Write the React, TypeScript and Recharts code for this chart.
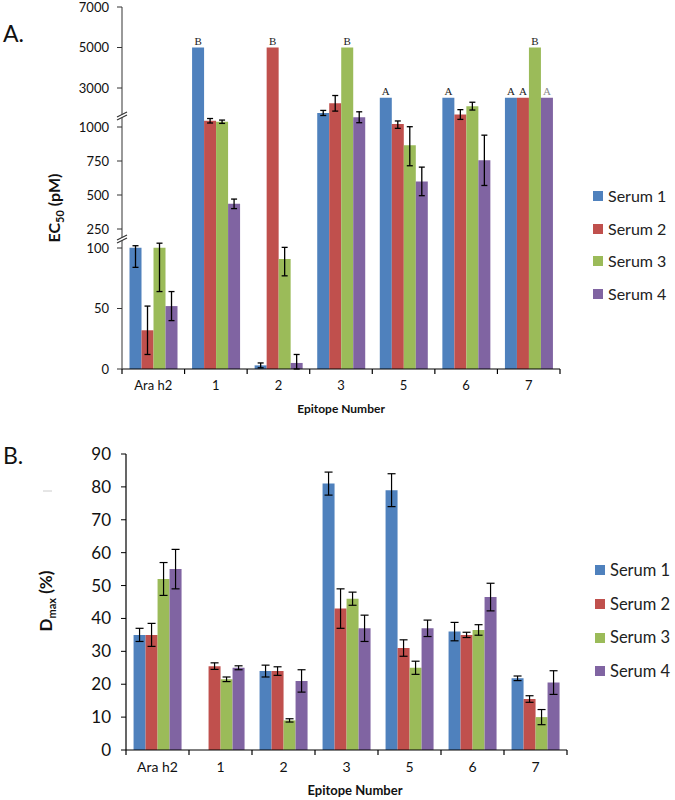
import React from "react";
import { BarChart, Bar, XAxis, YAxis, ErrorBar, LabelList } from "recharts";

const CATEGORIES = ["Ara h2", "1", "2", "3", "5", "6", "7"];
const SERIES = ["Serum 1", "Serum 2", "Serum 3", "Serum 4"];
const COLORS = ["#4F81BD", "#C0504D", "#9BBB59", "#8064A2"];

// EC50 (pM)
const ec50Serum1 = [101, 5000, 3, 1720, 2500, 2500, 2500];
const ec50Serum1Err = [17, 0, 2, 130, 0, 0, 0];
const ec50Serum2 = [32, 1320, 5000, 2215, 1150, 1640, 2500];
const ec50Serum2Err = [20, 115, 0, 400, 160, 250, 0];
const ec50Serum3 = [101, 1270, 91, 5000, 865, 2070, 5000];
const ec50Serum3Err = [37, 85, 14, 0, 150, 200, 0];
const ec50Serum4 = [52, 435, 5, 1500, 600, 755, 2500];
const ec50Serum4Err = [12, 35, 7, 280, 105, 185, 0];

const ec50Serum1Labels = ["", "B", "", "", "A", "A", "A"];
const ec50Serum2Labels = ["", "", "B", "", "", "", "A"];
const ec50Serum3Labels = ["", "", "", "B", "", "", "B"];
const ec50Serum4Labels = ["", "", "", "", "", "", "A"];

const EC50_TICKS = [0, 50, 100, 250, 500, 750, 1000, 3000, 5000, 7000];

// Dmax (%)
const dmaxSerum1 = [35, null, 24, 81, 79, 36, 21.8];
const dmaxSerum1Err = [2, null, 1.8, 3.5, 5, 2.8, 0.7];
const dmaxSerum2 = [35, 25.5, 24, 43, 31, 35, 15.5];
const dmaxSerum2Err = [3.5, 1, 1.3, 6, 2.5, 0.8, 1];
const dmaxSerum3 = [52, 21.5, 9, 46, 25, 36.5, 10];
const dmaxSerum3Err = [5, 0.7, 0.5, 2, 2, 1.6, 2.3];
const dmaxSerum4 = [55, 25, 21, 37, 37, 46.5, 20.5];
const dmaxSerum4Err = [6, 0.6, 3.4, 4, 2.5, 4.2, 3.6];

const DMAX_TICKS = [0, 10, 20, 30, 40, 50, 60, 70, 80, 90];

// broken axis: value breakpoints and their share of the axis (px from the bottom)
const AXIS_BREAKS = [0, 100, 250, 1000, 3000, 7000];
const AXIS_BREAK_PX = [0, 121, 140, 242, 281, 362];

function warp(v: number) {
  if (v <= 0) return 0;
  for (let i = 1; i < AXIS_BREAKS.length; i++) {
    if (v <= AXIS_BREAKS[i]) {
      const a = AXIS_BREAKS[i - 1], b = AXIS_BREAKS[i];
      const pa = AXIS_BREAK_PX[i - 1], pb = AXIS_BREAK_PX[i];
      return pa + ((v - a) / (b - a)) * (pb - pa);
    }
  }
  return AXIS_BREAK_PX[AXIS_BREAK_PX.length - 1];
}

const ec50Values = [ec50Serum1, ec50Serum2, ec50Serum3, ec50Serum4];
const ec50Errs = [ec50Serum1Err, ec50Serum2Err, ec50Serum3Err, ec50Serum4Err];
const ec50Labels = [ec50Serum1Labels, ec50Serum2Labels, ec50Serum3Labels, ec50Serum4Labels];

const ec50Data = CATEGORIES.map((name, i) => {
  const row: any = { name };
  ec50Values.forEach((vals, s) => {
    const v = vals[i];
    const e = ec50Errs[s][i];
    const w = warp(v);
    row[`s${s}`] = w;
    row[`s${s}e`] = e ? [w - warp(Math.max(0, v - e)), warp(v + e) - w] : null;
    row[`s${s}l`] = ec50Labels[s][i];
  });
  return row;
});

const dmaxValues = [dmaxSerum1, dmaxSerum2, dmaxSerum3, dmaxSerum4];
const dmaxErrs = [dmaxSerum1Err, dmaxSerum2Err, dmaxSerum3Err, dmaxSerum4Err];

const dmaxData = CATEGORIES.map((name, i) => {
  const row: any = { name };
  dmaxValues.forEach((vals, s) => {
    row[`s${s}`] = vals[i];
    row[`s${s}e`] = dmaxErrs[s][i];
  });
  return row;
});

const FONT = "Lato, 'Open Sans', sans-serif";

// category label at the centre, tick marks on the category boundaries (Excel style)
function EpitopeTick({ x, payload, index, axisY, band, count, fontSize }: any) {
  return (
    <g>
      <line x1={x - band / 2} x2={x - band / 2} y1={axisY} y2={axisY + 5} stroke="#000" strokeWidth={1.2} />
      {index === count - 1 && (
        <line x1={x + band / 2} x2={x + band / 2} y1={axisY} y2={axisY + 5} stroke="#000" strokeWidth={1.2} />
      )}
      <text x={x} y={axisY + 18} textAnchor="middle" dominantBaseline="middle" fontSize={fontSize} fill="#111" fontFamily={FONT}>
        {payload.value}
      </text>
    </g>
  );
}

function SideLegend({ left, top, gap, fontSize }: any) {
  return (
    <div style={{ position: "absolute", left, top }}>
      {SERIES.map((s, i) => (
        <div key={s} style={{ position: "absolute", top: i * gap, left: 0, display: "flex", alignItems: "center", whiteSpace: "nowrap" }}>
          <span style={{ width: 10, height: 10, background: COLORS[i], display: "inline-block", marginRight: 5 }} />
          <span style={{ fontFamily: FONT, fontSize, color: "#222", lineHeight: `${fontSize}px` }}>{s}</span>
        </div>
      ))}
    </div>
  );
}

export default function App() {
  const bandA = (560 - 122) / CATEGORIES.length;
  const bandB = (567 - 126) / CATEGORIES.length;

  return (
    <div style={{ position: "absolute", left: 0, top: 0, width: 675, height: 800, background: "#fff", overflow: "hidden" }}>
      {/* Panel A */}
      <div style={{ position: "absolute", left: 0, top: 0 }}>
        <BarChart width={675} height={420} data={ec50Data} margin={{ top: 7, left: 72, right: 115, bottom: 21 }} barCategoryGap="12%" barGap={0}>
          <XAxis dataKey="name" height={30} axisLine={{ stroke: "#000", strokeWidth: 1.2 }} tickLine={false} interval={0}
            tick={(p: any) => <EpitopeTick {...p} axisY={369} band={bandA} count={CATEGORIES.length} fontSize={13} />} />
          <YAxis width={50} type="number" domain={[0, AXIS_BREAK_PX[AXIS_BREAK_PX.length - 1]]} ticks={EC50_TICKS.map(warp)} interval={0}
            tickFormatter={(v: number) => {
              const k = EC50_TICKS.find((t) => Math.abs(warp(t) - v) < 0.01);
              return k === undefined ? "" : String(k);
            }}
            axisLine={{ stroke: "#555", strokeWidth: 1.2 }} tickLine={{ stroke: "#333" }} tickSize={5} tickMargin={8}
            tick={{ fontSize: 13, fill: "#111", fontFamily: FONT }} allowDataOverflow />
          {SERIES.map((s, i) => (
            <Bar key={s} dataKey={`s${i}`} name={s} fill={COLORS[i]} isAnimationActive={false}>
              <ErrorBar dataKey={`s${i}e`} width={3} stroke="#000" strokeWidth={1.3} direction="y" isAnimationActive={false} />
              <LabelList dataKey={`s${i}l`} content={(p: any) => (
                p.value ? (
                  <text x={p.x + p.width / 2} y={p.y - 3} textAnchor="middle" fontSize={11} fontFamily="'Liberation Serif', serif"
                    fill={i === 3 ? "#8a8a8a" : "#222"}>{p.value}</text>
                ) : null
              )} />
            </Bar>
          ))}
        </BarChart>
      </div>

      {/* Panel B */}
      <div style={{ position: "absolute", left: 0, top: 420 }}>
        <BarChart width={675} height={380} data={dmaxData} margin={{ top: 34, left: 76, right: 108, bottom: 20 }} barCategoryGap="12%" barGap={0}>
          <XAxis dataKey="name" height={30} axisLine={{ stroke: "#000", strokeWidth: 1.2 }} tickLine={false} interval={0}
            tick={(p: any) => <EpitopeTick {...p} axisY={330} band={bandB} count={CATEGORIES.length} fontSize={14} />} />
          <YAxis width={50} type="number" domain={[0, 90]} ticks={DMAX_TICKS} interval={0}
            axisLine={{ stroke: "#000", strokeWidth: 1.2 }} tickLine={{ stroke: "#000" }} tickSize={5} tickMargin={10}
            tick={{ fontSize: 17, fill: "#111", fontFamily: FONT }} />
          {SERIES.map((s, i) => (
            <Bar key={s} dataKey={`s${i}`} name={s} fill={COLORS[i]} isAnimationActive={false}>
              <ErrorBar dataKey={`s${i}e`} width={4} stroke="#000" strokeWidth={1.2} direction="y" isAnimationActive={false} />
            </Bar>
          ))}
        </BarChart>
      </div>

      {/* panel letters, axis titles, axis break marks */}
      <svg width={675} height={800} style={{ position: "absolute", left: 0, top: 0, pointerEvents: "none" }}>
        <text x={3} y={42} fontSize={23} fontFamily={FONT} fill="#111">A.</text>
        <text x={3} y={464} fontSize={23} fontFamily={FONT} fill="#111">B.</text>

        <text transform="translate(60,208) rotate(-90)" textAnchor="middle" fontSize={16} fontWeight="bold" fontFamily={FONT} fill="#111">
          EC<tspan fontSize={11} dy={4}>50</tspan><tspan dy={-4}> (pM)</tspan>
        </text>
        <text transform="translate(52,601) rotate(-90)" textAnchor="middle" fontSize={17} fontWeight="bold" fontFamily={FONT} fill="#111">
          D<tspan fontSize={11} dy={4}>max</tspan><tspan dy={-4}> (%)</tspan>
        </text>

        <text x={341} y={413} textAnchor="middle" fontSize={12} fontWeight="bold" fontFamily={FONT} fill="#111">Epitope Number</text>
        <text x={355} y={795} textAnchor="middle" fontSize={13} fontWeight="bold" fontFamily={FONT} fill="#111">Epitope Number</text>

        {[117, 240].map((y) => (
          <g key={y}>
            <polygon points={`${117},${y + 3} ${127},${y - 2} ${127},${y - 5} ${117},${y}`} fill="#fff" />
            <line x1={117} y1={y + 3} x2={127} y2={y - 2} stroke="#333" strokeWidth={1.2} />
            <line x1={117} y1={y} x2={127} y2={y - 5} stroke="#333" strokeWidth={1.2} />
          </g>
        ))}
        <line x1={43} y1={491} x2={52} y2={491} stroke="#ccc" strokeWidth={1} />
      </svg>

      <SideLegend left={593} top={188} gap={32.7} fontSize={16} />
      <SideLegend left={595} top={562} gap={33.7} fontSize={16.5} />
    </div>
  );
}
